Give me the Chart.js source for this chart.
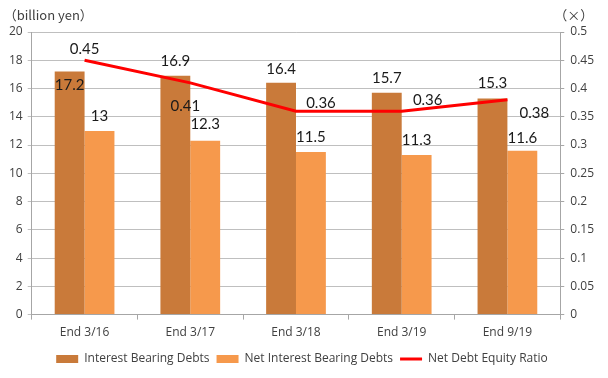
<!DOCTYPE html>
<html>
<head>
<meta charset="utf-8">
<script src="https://cdn.jsdelivr.net/npm/chart.js@4"></script>
<style>
html,body{margin:0;padding:0;background:#fff;}
#wrap{width:608px;height:378px;position:relative;}
</style>
</head>
<body>
<div id="wrap"><canvas id="c" width="608" height="378"></canvas></div>
<script>
const categories = ["End 3/16", "End 3/17", "End 3/18", "End 3/19", "End 9/19"];
const interestBearingDebts = [17.2, 16.9, 16.4, 15.7, 15.3];
const netInterestBearingDebts = [13, 12.3, 11.5, 11.3, 11.6];
const netDebtEquityRatio = [0.45, 0.41, 0.36, 0.36, 0.38];
const leftTicks = [0, 2, 4, 6, 8, 10, 12, 14, 16, 18, 20];
const rightTicks = [0, 0.05, 0.1, 0.15, 0.2, 0.25, 0.3, 0.35, 0.4, 0.45, 0.5];

const FONT = "'Open Sans', Lato, sans-serif";
const LFONT = "Lato, 'Noto Sans', sans-serif";

// label offsets (dx, dy) relative to each mark's anchor, mimicking the original placement
const labelOffsets = {
  0: [[0, 14], [0, -15], [0, -14], [0, -15], [0, -15]],
  1: [[0, -15], [0, -17], [0, -15], [0, -15], [0, -13]],
  2: [[0, -11], [-5, 23], [25, -8], [26, -11], [27, 13]]
};

const labelPlugin = {
  id: 'labels',
  afterDatasetsDraw(chart) {
    const ctx = chart.ctx;
    ctx.save();
    ctx.font = "15px " + LFONT;
    ctx.fillStyle = "#1a1a1a";
    ctx.textAlign = "center";
    ctx.textBaseline = "middle";
    chart.data.datasets.forEach((ds, di) => {
      const meta = chart.getDatasetMeta(di);
      meta.data.forEach((el, i) => {
        const off = labelOffsets[di][i];
        ctx.fillText(String(ds.data[i]), el.x + off[0], el.y + off[1]);
      });
    });
    ctx.restore();
  }
};

const titlePlugin = {
  id: 'axisTitles',
  afterDraw(chart) {
    const ctx = chart.ctx;
    const ca = chart.chartArea;
    ctx.save();
    ctx.font = "13px 'Noto Sans CJK JP', " + LFONT;
    ctx.fillStyle = "#404040";
    ctx.textBaseline = "middle";
    ctx.textAlign = "left";
    ctx.fillText("（billion yen）", ca.left - 28, ca.top - 17);
    ctx.fillText("（×）", ca.right - 6, ca.top - 17);
    ctx.restore();
  }
};

new Chart(document.getElementById('c'), {
  type: 'bar',
  data: {
    labels: categories,
    datasets: [
      {
        label: 'Interest Bearing Debts',
        data: interestBearingDebts,
        backgroundColor: '#C97A3A',
        yAxisID: 'y',
        categoryPercentage: 0.565,
        barPercentage: 1.0,
        pointStyle: 'rect',
        order: 2
      },
      {
        label: 'Net Interest Bearing Debts',
        data: netInterestBearingDebts,
        backgroundColor: '#F6994C',
        yAxisID: 'y',
        categoryPercentage: 0.565,
        barPercentage: 1.0,
        pointStyle: 'rect',
        order: 3
      },
      {
        type: 'line',
        label: 'Net Debt Equity Ratio',
        data: netDebtEquityRatio,
        borderColor: '#FF0000',
        backgroundColor: '#FF0000',
        borderWidth: 3,
        pointRadius: 0,
        pointStyle: 'line',
        tension: 0,
        yAxisID: 'y1',
        order: 1
      }
    ]
  },
  options: {
    responsive: false,
    animation: false,
    layout: { padding: { left: 4, right: 8, top: 32, bottom: 3 } },
    plugins: {
      tooltip: { enabled: false },
      legend: {
        position: 'bottom',
        labels: {
          usePointStyle: true,
          pointStyleWidth: 22,
          boxWidth: 22,
          boxHeight: 8,
          padding: 7,
          color: '#404040',
          font: { family: FONT, size: 12 },
          sort: (a, b) => a.datasetIndex - b.datasetIndex
        }
      }
    },
    scales: {
      x: {
        grid: { display: true, drawOnChartArea: false, drawTicks: true, tickLength: 5, color: '#A6A6A6', offset: true },
        border: { display: true, color: '#A6A6A6' },
        ticks: { color: '#404040', font: { family: FONT, size: 12 }, padding: 6 }
      },
      y: {
        position: 'left',
        min: 0, max: 20,
        afterBuildTicks: (s) => { s.ticks = leftTicks.map(v => ({ value: v })); },
        grid: { color: '#BFBFBF', drawTicks: true, tickLength: 4 },
        border: { display: true, color: '#A6A6A6' },
        ticks: { color: '#404040', font: { family: FONT, size: 12 }, padding: 5 }
      },
      y1: {
        position: 'right',
        min: 0, max: 0.5,
        afterBuildTicks: (s) => { s.ticks = rightTicks.map(v => ({ value: v })); },
        grid: { drawOnChartArea: false, drawTicks: true, tickLength: 4, color: '#A6A6A6' },
        border: { display: true, color: '#A6A6A6' },
        ticks: { color: '#404040', font: { family: FONT, size: 12 }, padding: 6,
                 callback: (v) => String(parseFloat(Number(v).toFixed(2))) }
      }
    }
  },
  plugins: [labelPlugin, titlePlugin]
});
</script>
</body>
</html>
